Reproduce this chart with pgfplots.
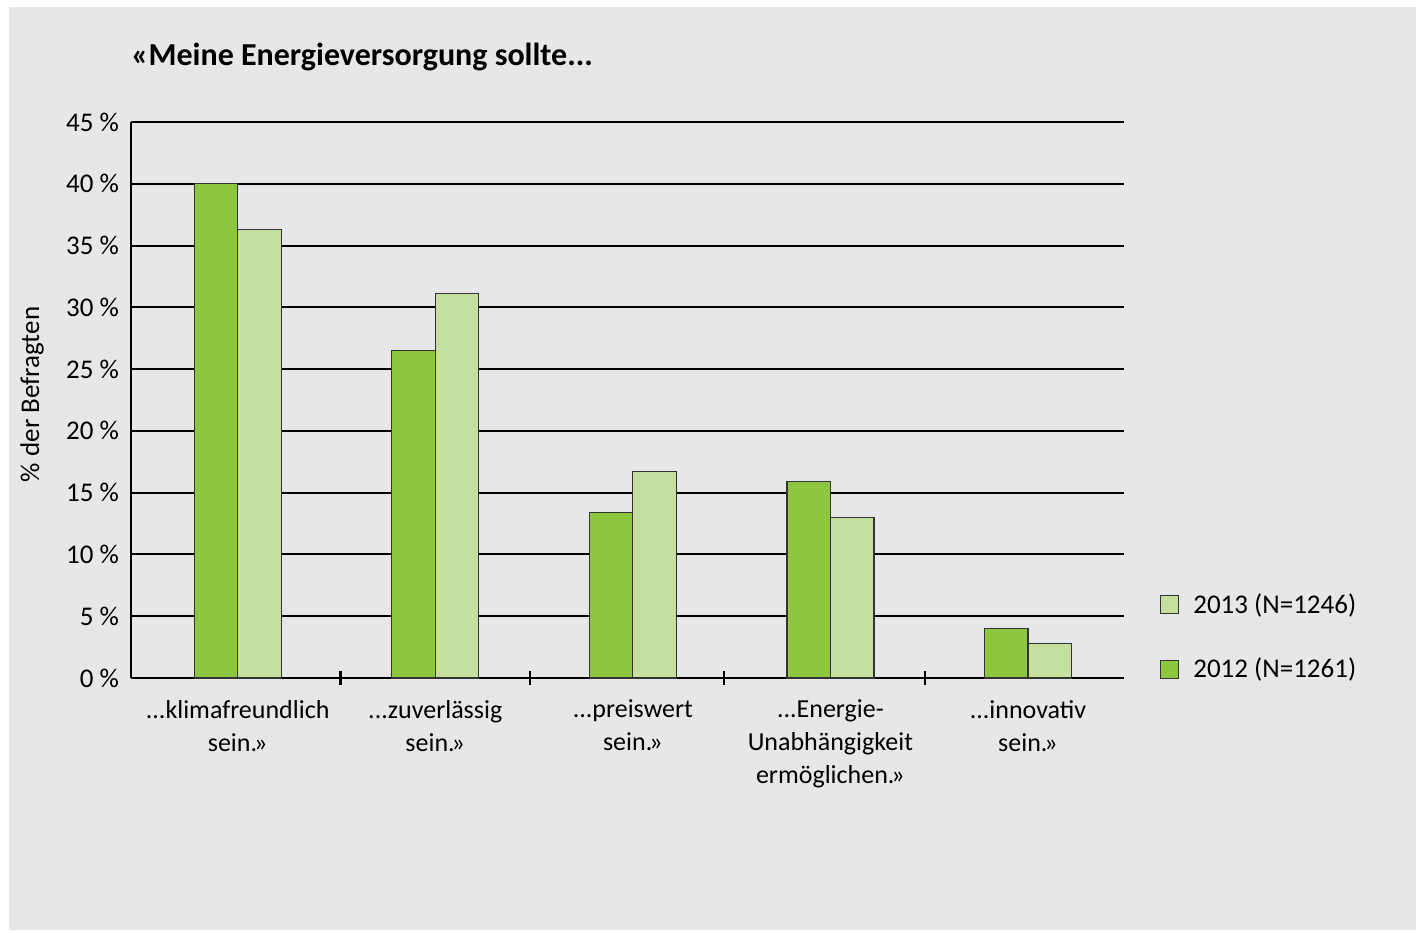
\documentclass[border=0pt]{standalone}
\usepackage{fontspec}
\setmainfont{Carlito}
\usepackage{pgfplots}
\pgfplotsset{compat=1.18}
\definecolor{bg}{HTML}{E6E7E8}
\definecolor{gA}{HTML}{8DC63F}
\definecolor{gB}{HTML}{C5E09E}
\newcommand{\dd}{.{}.{}.}
\newcommand{\gq}{\kern-1.5pt»}
\begin{document}
\begin{tikzpicture}
\fill[white] (0pt,0pt) rectangle (710.5pt,466.5pt);
\fill[bg] (4.5pt,1.5pt) rectangle (708pt,463pt);
\node[anchor=base west, inner sep=0pt, font=\bfseries\fontsize{16}{18}\selectfont] at (65.5pt,433.5pt) {«Meine Energieversorgung sollte\dd};
\begin{axis}[
  at={(65.5pt,127.5pt)}, anchor=south west,
  scale only axis, width=496.5pt, height=278pt,
  ymin=0, ymax=45, ytick={0,5,10,15,20,25,30,35,40,45},
  xmin=-0.54, xmax=4.486,
  xtick={0,1,2,3,4},
  xticklabels={{\dd klimafreundlich\\sein.\gq},{\dd zuverlässig\\sein.\gq},{\dd preiswert\\sein.\gq},{\dd Energie-\\Unabhängigkeit\\ermöglichen.\gq},{\dd innovativ\\sein.\gq}},
  xticklabel style={align=center, font=\fontsize{13}{16.5}\selectfont, yshift=-7.5pt},
  minor xtick={0.52,1.48,2.46,3.48},
  major tick length=0pt, minor tick length=7pt,
  xtick align=inside,
  minor tick style={black, line width=1.1pt},
  axis lines=left, axis line style={-, black, line width=1pt},
  ymajorgrids, grid style={black, line width=1pt},
  /pgf/number format/assume math mode=true,
  yticklabel={\pgfmathprintnumber{\tick}\ \%},
  yticklabel style={font=\fontsize{13.5}{16}\selectfont, xshift=-2.5pt},
  ylabel={\% der Befragten},
  ylabel style={at={(axis description cs:-0.0997,0.51)}, anchor=center, font=\fontsize{13.5}{16}\selectfont},
  legend style={at={(1.036,0.0735)}, anchor=west, draw=none, fill=none, inner sep=0pt, row sep=17pt, column sep=5pt, font=\fontsize{13.5}{16}\selectfont},
  legend cell align=left,
  reverse legend,
  legend image code/.code={\draw[#1] (0pt,-4.5pt) rectangle (9pt,4.5pt);},
]
\addplot[ybar, bar width=21.75pt, bar shift=-10.875pt, fill=gA, draw=black!80, line width=0.6pt] coordinates {(0,40.0) (1,26.5) (2,13.4) (3,15.9) (4,4.0)};
\addplot[ybar, bar width=21.75pt, bar shift=10.875pt, fill=gB, draw=black!80, line width=0.6pt] coordinates {(0,36.3) (1,31.1) (2,16.7) (3,13.0) (4,2.8)};
\legend{2012 (N=1261), 2013 (N=1246)}
\end{axis}
\end{tikzpicture}
\end{document}
